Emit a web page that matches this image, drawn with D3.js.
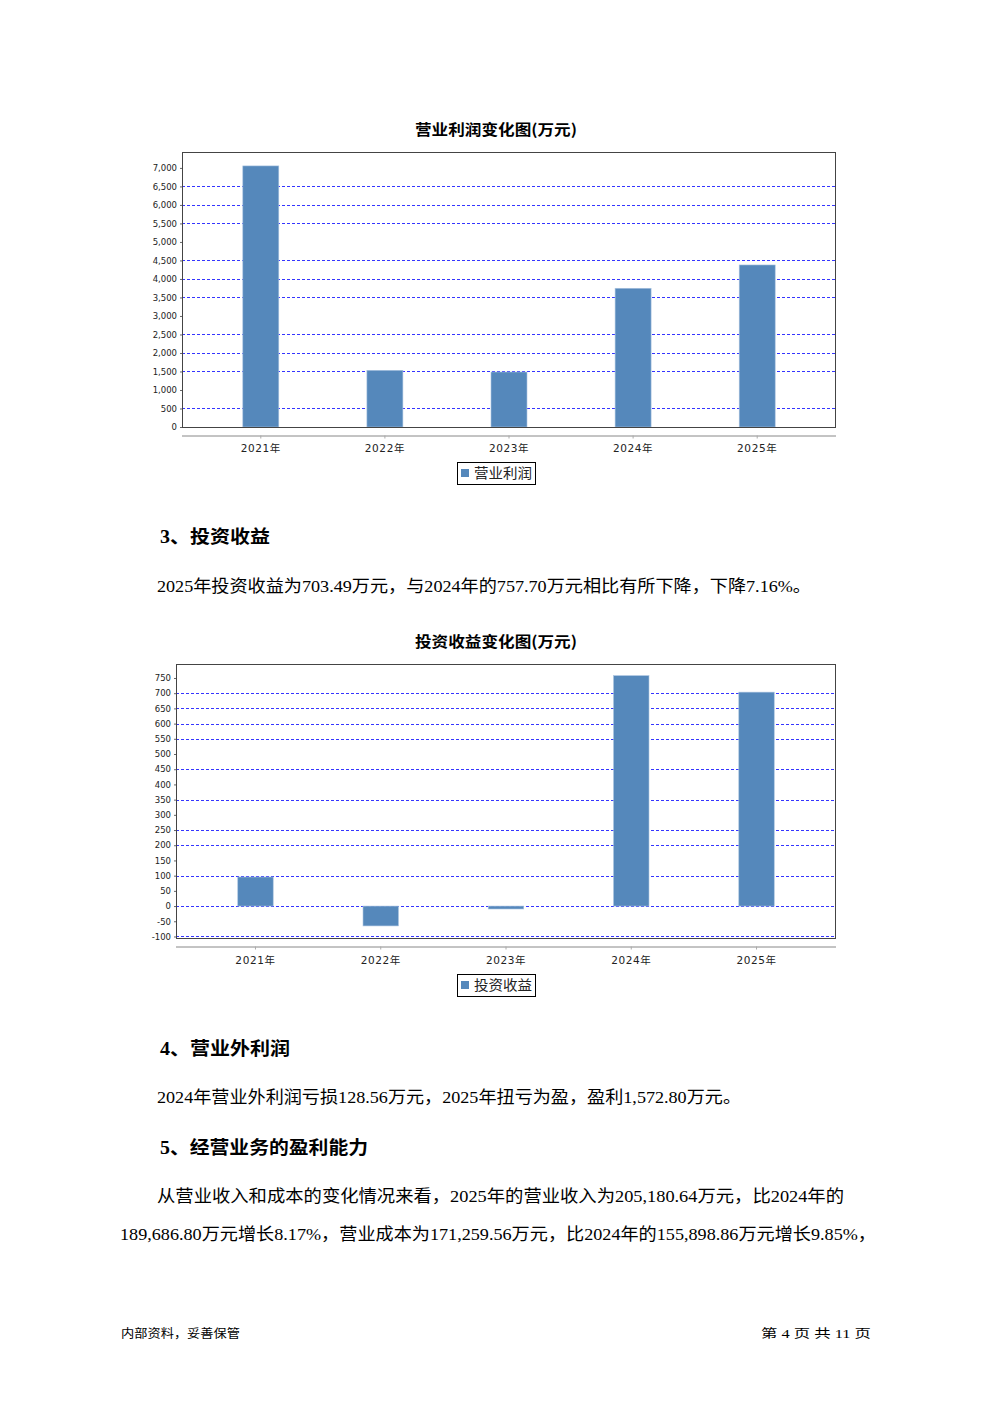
<!DOCTYPE html>
<html>
<head>
<meta charset="utf-8">
<script src="https://cdn.jsdelivr.net/npm/d3@7"></script>
<style>
  html, body { margin: 0; padding: 0; background: #fff; }
  svg { display: block; }
</style>
</head>
<body>
<svg id="page" width="992" height="1403"></svg>
<script>
// ---------- data ----------
const categories = ["2021年", "2022年", "2023年", "2024年", "2025年"];
const opProfit = [7054, 1532, 1486, 3748, 4378];          // 营业利润 (万元)
const invIncome = [95.6, -65.3, -9.6, 757.70, 703.49];    // 投资收益 (万元)
const opTicks = [0, 500, 1000, 1500, 2000, 2500, 3000, 3500, 4000, 4500, 5000, 5500, 6000, 6500, 7000];
const opGrid = [500, 1500, 2000, 2500, 3500, 4000, 4500, 5500, 6000, 6500];
const invTicks = [-100, -50, 0, 50, 100, 150, 200, 250, 300, 350, 400, 450, 500, 550, 600, 650, 700, 750];
const invGrid = [-100, 0, 100, 200, 250, 350, 450, 550, 600, 650, 700];
const opDomain = [0, 7430];
const invDomain = [-105, 796];

const svg = d3.select("#page");
svg.append("rect").attr("width", 992).attr("height", 1403).attr("fill", "#fff");

const BAR = "#5588bb";
const GRID = "#3535ff";
const CJK = "'Noto Sans CJK SC', sans-serif";
const BODY = "'Liberation Serif', 'Noto Sans CJK SC', serif";
const fmt = d3.formatLocale({decimal: ".", thousands: ",", grouping: [3], currency: ["", ""], minus: "-"}).format(",");

function txt(x, y, s, opt) {
  const t = svg.append("text").attr("x", x).attr("y", y).text(s)
    .attr("font-family", opt.family || BODY)
    .attr("font-size", opt.size || 16)
    .attr("font-weight", opt.weight || "normal")
    .attr("fill", opt.fill || "#000")
    .attr("text-anchor", opt.anchor || "start");
  if (opt.len) t.attr("textLength", opt.len).attr("lengthAdjust", "spacingAndGlyphs");
  return t;
}

function chart(cfg) {
  const g = svg.append("g");
  const x = d3.scaleBand().domain(categories).range([cfg.left, cfg.right])
    .paddingInner(cfg.pi).paddingOuter(cfg.po);
  const y = d3.scaleLinear().domain(cfg.domain).range([cfg.bottom, cfg.top]);

  // title
  txt((cfg.left + cfg.right) / 2 + cfg.titleDx, cfg.titleY, cfg.title,
      {family: CJK, size: 15, weight: "bold", anchor: "middle", len: 162});

  // grid lines
  g.selectAll("line.grid").data(cfg.grid).enter().append("line")
    .attr("x1", cfg.left).attr("x2", cfg.right)
    .attr("y1", d => Math.round(y(d)) + 0.5).attr("y2", d => Math.round(y(d)) + 0.5)
    .attr("stroke", GRID).attr("stroke-width", 1).attr("stroke-dasharray", "3,2")
    .attr("shape-rendering", "crispEdges");

  // bars
  g.selectAll("rect.bar").data(cfg.values).enter().append("rect")
    .attr("x", (d, i) => x(categories[i]))
    .attr("width", x.bandwidth())
    .attr("y", d => y(Math.max(0, d)))
    .attr("height", d => Math.abs(y(d) - y(0)))
    .attr("fill", BAR)
    .attr("stroke", "#a9c3e0").attr("stroke-width", 0.6);

  // frame
  g.append("rect").attr("x", cfg.left + 0.5).attr("y", cfg.top + 0.5)
    .attr("width", cfg.right - cfg.left - 1).attr("height", cfg.bottom - cfg.top)
    .attr("fill", "none").attr("stroke", "#444").attr("stroke-width", 1);

  // y axis
  const ya = g.append("g").attr("transform", `translate(${cfg.left},0)`)
    .call(d3.axisLeft(y).tickValues(cfg.ticks).tickSize(2).tickPadding(3).tickFormat(fmt));
  ya.select(".domain").remove();
  ya.selectAll("text").attr("font-family", "'DejaVu Sans', sans-serif")
    .attr("font-size", 8.5).attr("fill", "#222");
  ya.selectAll("line").attr("stroke", "#666");

  // x axis
  const xa = g.append("g").attr("transform", `translate(0,${cfg.axisY})`)
    .call(d3.axisBottom(x).tickSize(3).tickPadding(cfg.xPad).tickSizeOuter(0));
  xa.select(".domain").attr("stroke", "#888").attr("d", `M${cfg.left},0.5H${cfg.right}`);
  xa.selectAll("line").attr("stroke", "#aaa");
  xa.selectAll("text").attr("font-family", "'DejaVu Sans', 'Noto Sans CJK SC', sans-serif")
    .attr("font-size", 10.5).attr("fill", "#222").attr("letter-spacing", 0.6);

  // legend
  const lg = g.append("g");
  lg.append("rect").attr("x", 457.5).attr("y", cfg.legendY + 0.5).attr("width", 78).attr("height", 22)
    .attr("fill", "#fff").attr("stroke", "#000").attr("stroke-width", 1);
  lg.append("rect").attr("x", 461).attr("y", cfg.legendY + 7).attr("width", 8).attr("height", 8).attr("fill", BAR);
  lg.append("text").attr("x", 474).attr("y", cfg.legendY + 16).text(cfg.legend)
    .attr("font-family", CJK).attr("font-size", 13.5).attr("fill", "#222")
    .attr("textLength", 58).attr("lengthAdjust", "spacingAndGlyphs");
}

chart({
  title: "营业利润变化图(万元)", titleY: 135, titleDx: -13,
  left: 182, right: 836, top: 152, bottom: 427, axisY: 435.5, xPad: 6,
  pi: 0.71, po: 0.49, domain: opDomain, ticks: opTicks, grid: opGrid,
  values: opProfit, legend: "营业利润", legendY: 462
});

chart({
  title: "投资收益变化图(万元)", titleY: 647, titleDx: -10,
  left: 176, right: 836, top: 664, bottom: 938, axisY: 946.5, xPad: 7,
  pi: 0.717, po: 0.493, domain: invDomain, ticks: invTicks, grid: invGrid,
  values: invIncome, legend: "投资收益", legendY: 974
});

// ---------- body text ----------
txt(160, 543, "3、投资收益", {size: 18, weight: "bold", len: 110});
txt(157, 592, "2025年投资收益为703.49万元，与2024年的757.70万元相比有所下降，下降7.16%。", {size: 17, len: 654});
txt(160, 1055, "4、营业外利润", {size: 18, weight: "bold", len: 130});
txt(157, 1103, "2024年营业外利润亏损128.56万元，2025年扭亏为盈，盈利1,572.80万元。", {size: 17, len: 584});
txt(160, 1154, "5、经营业务的盈利能力", {size: 18, weight: "bold", len: 208});
txt(157, 1202, "从营业收入和成本的变化情况来看，2025年的营业收入为205,180.64万元，比2024年的", {size: 17, len: 687});
txt(120, 1240, "189,686.80万元增长8.17%，营业成本为171,259.56万元，比2024年的155,898.86万元增长9.85%，", {size: 17, len: 756});

// footer
txt(121, 1338, "内部资料，妥善保管", {family: CJK, size: 12, len: 119});
txt(761, 1338, "第 4 页   共 11 页", {size: 12, len: 110});
</script>
</body>
</html>
